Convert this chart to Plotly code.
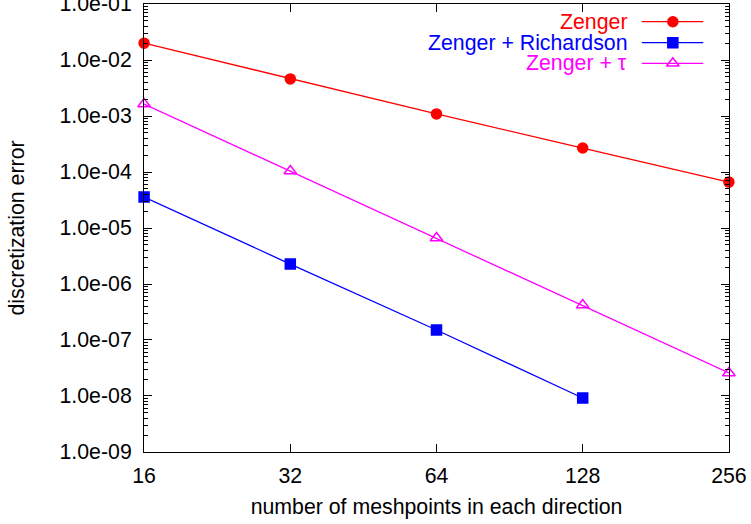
import plotly.graph_objects as go

# ---- data ----
meshpoints = [16, 32, 64, 128, 256]
zenger = [2.0e-2, 4.6e-3, 1.09e-3, 2.68e-4, 6.6e-5]
rich_meshpoints = [16, 32, 64, 128]
zenger_richardson = [3.58e-5, 2.27e-6, 1.51e-7, 9.2e-9]
zenger_tau = [1.64e-3, 1.04e-4, 6.63e-6, 4.2e-7, 2.58e-8]

series_names = ["Zenger", "Zenger + Richardson", "Zenger + \u03c4"]
series_colors = ["#ff0000", "#0000ff", "#ff00ff"]
series_symbols = ["circle", "square", "triangle-up-open"]
series_sizes = [10, 10, 11]

x_tickvals = [16, 32, 64, 128, 256]
x_ticktext = ["16", "32", "64", "128", "256"]
y_exponents = [-9, -8, -7, -6, -5, -4, -3, -2, -1]
y_tickvals = [10.0 ** e for e in y_exponents]
y_ticktext = ["1.0e-%02d" % (-e) for e in y_exponents]
y_minor = [m * 10.0 ** e for e in y_exponents[:-1] for m in range(2, 10)]

FONT = "Liberation Sans, Arial, sans-serif"
FS = 21.3

fig = go.Figure()
xs = [meshpoints, rich_meshpoints, meshpoints]
ys = [zenger, zenger_richardson, zenger_tau]
for x, y, name, c, s, sz in zip(xs, ys, series_names, series_colors, series_symbols, series_sizes):
    fig.add_trace(go.Scatter(
        x=x, y=y, name=name, mode="lines+markers",
        line=dict(color=c, width=1.3),
        marker=dict(color=c, symbol=s, size=sz, line=dict(color=c, width=1.5)),
        showlegend=False, cliponaxis=False,
    ))

# ---- gnuplot-style legend (text left of sample) on a hidden overlay axis ----
leg_rows = [0.9605, 0.9136, 0.8676]
leg_x0, leg_x1, leg_xm, leg_txt = 0.851, 0.956, 0.904, 0.829
for yy, name, c, s, sz in zip(leg_rows, series_names, series_colors, series_symbols, series_sizes):
    fig.add_trace(go.Scatter(
        x=[leg_x0, leg_x1], y=[yy, yy], mode="lines", line=dict(color=c, width=1.3),
        xaxis="x2", yaxis="y2", showlegend=False, hoverinfo="skip"))
    fig.add_trace(go.Scatter(
        x=[leg_xm], y=[yy], mode="markers",
        marker=dict(color=c, symbol=s, size=sz, line=dict(color=c, width=1.5)),
        xaxis="x2", yaxis="y2", showlegend=False, hoverinfo="skip"))
    fig.add_annotation(x=leg_txt, y=yy, xref="x2", yref="y2", text=name,
                       showarrow=False, xanchor="right", yanchor="middle",
                       font=dict(family=FONT, size=FS, color=c))

fig.update_layout(
    width=751, height=524,
    margin=dict(l=144, r=22, t=4, b=72),
    paper_bgcolor="white", plot_bgcolor="white",
    font=dict(family=FONT, size=FS, color="black"),
    showlegend=False,
    xaxis=dict(
        type="log", range=[4 * 0.30103 - 0.0002, 8 * 0.30103 + 0.0002],
        tickvals=x_tickvals, ticktext=x_ticktext,
        ticks="inside", ticklen=8, tickcolor="black", tickwidth=1,
        showline=True, linecolor="black", linewidth=1, mirror="ticks",
        showgrid=False, zeroline=False, ticklabelstandoff=4,
        ticklabeloverflow="allow", automargin=False,
        title=dict(text="number of meshpoints in each direction", standoff=12,
                   font=dict(family=FONT, size=FS)),
    ),
    yaxis=dict(
        type="log", range=[-9.0002, -0.9998],
        tickvals=y_tickvals, ticktext=y_ticktext,
        ticks="inside", ticklen=8, tickcolor="black", tickwidth=1,
        minor=dict(tickvals=y_minor, ticks="inside", ticklen=4, tickcolor="black"),
        showline=True, linecolor="black", linewidth=1, mirror="ticks",
        showgrid=False, zeroline=False, ticklabelstandoff=7,
        ticklabeloverflow="allow", automargin=False,
        title=dict(text="discretization error", standoff=29,
                   font=dict(family=FONT, size=FS)),
    ),
    xaxis2=dict(overlaying="x", range=[0, 1], visible=False, fixedrange=True),
    yaxis2=dict(overlaying="y", range=[0, 1], visible=False, fixedrange=True),
)

fig.write_html("out.html", config={"displayModeBar": False},
               post_script="document.body.style.margin='0px';")
